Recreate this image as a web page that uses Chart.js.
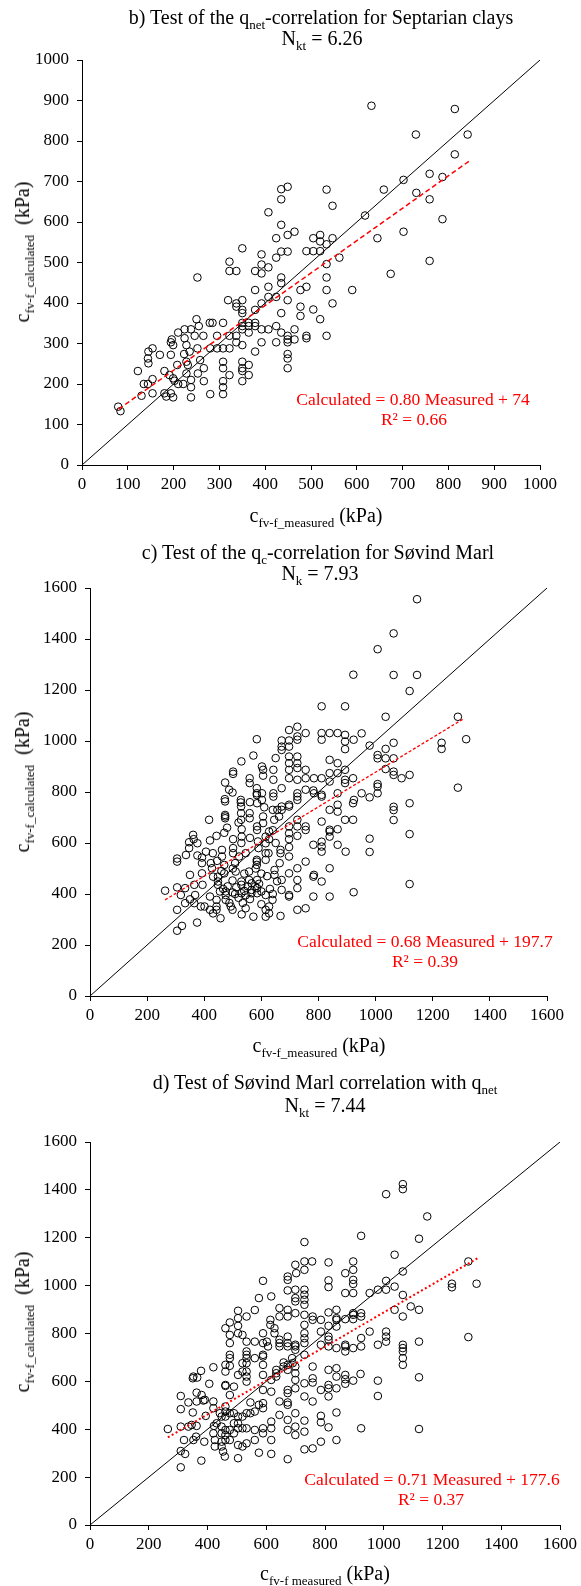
<!DOCTYPE html>
<html><head><meta charset="utf-8">
<script src="https://cdn.jsdelivr.net/npm/chart.js@4/dist/chart.umd.min.js"></script>
<style>
body{margin:0;background:#fff;width:581px;height:1586px;position:relative;overflow:hidden;font-family:"Liberation Serif","Times New Roman",serif;color:#000}
canvas{position:absolute;left:0}
.t{position:absolute;white-space:nowrap;font-size:20px;line-height:20px;transform:translate(-50%,-50%)}
.t sub{font-size:13px;vertical-align:-5px;line-height:0}
.eq{color:#ff0000;font-size:17.5px}
.yt{transform:translate(-50%,-50%) rotate(-90deg)}
</style></head>
<body>
<canvas id="cb" width="581" height="500" style="top:0px"></canvas>
<canvas id="cc" width="581" height="540" style="top:520px"></canvas>
<canvas id="cd" width="581" height="526" style="top:1060px"></canvas>

<div class="t" style="left:321px;top:17px">b) Test of the q<sub>net</sub>-correlation for Septarian clays</div>
<div class="t" style="left:322px;top:38px">N<sub>kt</sub> = 6.26</div>
<div class="t" style="left:316px;top:515px">c<sub>fv-f_measured</sub> (kPa)</div>
<div class="t yt" style="left:22px;top:252px">c<sub>fv-f_calculated</sub>&nbsp; (kPa)</div>
<div class="t eq" style="left:413px;top:399px">Calculated = 0.80 Measured + 74</div>
<div class="t eq" style="left:414px;top:419px">R² = 0.66</div>

<div class="t" style="left:318px;top:552px">c) Test of the q<sub>c</sub>-correlation for Søvind Marl</div>
<div class="t" style="left:320px;top:573px">N<sub>k</sub> = 7.93</div>
<div class="t" style="left:319px;top:1045px">c<sub>fv-f_measured</sub> (kPa)</div>
<div class="t yt" style="left:22px;top:782px">c<sub>fv-f_calculated</sub>&nbsp; (kPa)</div>
<div class="t eq" style="left:425px;top:941px">Calculated = 0.68 Measured + 197.7</div>
<div class="t eq" style="left:425px;top:961px">R² = 0.39</div>

<div class="t" style="left:325px;top:1082px">d) Test of Søvind Marl correlation with q<sub>net</sub></div>
<div class="t" style="left:325px;top:1105px">N<sub>kt</sub> = 7.44</div>
<div class="t" style="left:325px;top:1573px">c<sub>fv-f measured</sub> (kPa)</div>
<div class="t yt" style="left:22px;top:1322px">c<sub>fv-f_calculated</sub>&nbsp; (kPa)</div>
<div class="t eq" style="left:432px;top:1479px">Calculated = 0.71 Measured + 177.6</div>
<div class="t eq" style="left:431px;top:1499px">R² = 0.37</div>

<script>
// ---- Data (measured, calculated) in kPa ----
const pointsB = [
[79,144],[84,133],[122,232],[130,171],[135,200],[144,200],[145,251],[144,263],[145,280],[154,288],[154,212],[154,177],[170,272],[180,232],[180,177],[184,169],[194,177],[199,167],[194,272],[196,310],[194,303],[199,296],[191,222],[199,214],[202,208],[210,327],[208,247],[210,200],[221,200],[224,335],[224,313],[223,274],[228,296],[228,255],[231,247],[228,226],[235,280],[238,192],[238,167],[238,210],[238,335],[246,319],[252,463],[250,360],[255,343],[252,288],[258,259],[253,226],[265,319],[266,239],[266,207],[279,351],[285,351],[280,288],[280,175],[295,319],[295,288],[308,351],[308,288],[308,255],[308,239],[308,207],[308,192],[308,175],[322,502],[322,479],[319,407],[322,288],[322,222],[322,319],[337,479],[337,399],[337,391],[337,319],[337,303],[350,535],[350,407],[350,383],[350,375],[350,351],[350,335],[350,343],[350,296],[350,255],[350,239],[350,232],[350,207],[364,351],[364,343],[364,327],[364,247],[364,222],[378,479],[378,432],[378,383],[378,351],[378,343],[378,280],[392,520],[392,495],[392,473],[392,399],[392,335],[392,303],[407,624],[407,488],[407,440],[407,415],[407,335],[424,560],[424,512],[424,415],[424,343],[424,303],[435,681],[435,656],[435,593],[435,527],[435,463],[435,449],[435,375],[435,327],[449,687],[449,568],[449,527],[449,407],[449,319],[449,310],[449,303],[449,274],[449,263],[449,239],[464,576],[464,335],[464,310],[477,432],[477,391],[477,368],
[632,887],[814,879],[729,816],[842,816],[814,767],[759,719],[787,711],[702,704],[534,680],[659,680],[547,640],[730,672],[759,656],[618,616],[787,607],[702,576],[645,560],[520,568],[505,560],[520,552],[547,560],[534,545],[490,528],[505,528],[520,528],[562,512],[534,496],[759,504],[674,472],[534,463],[490,440],[534,432],[590,432],[547,399],[505,384],[520,360],[490,319],[490,313],[534,319]
];
const trendB = [[80,138],[845,750]];

const pointsC = [
[263,413],[305,539],[305,527],[305,426],[305,338],[305,256],[322,275],[318,396],[333,423],[333,364],[336,553],[347,580],[350,379],[350,475],[361,632],[363,615],[347,603],[375,288],[365,364],[368,396],[365,436],[376,551],[376,599],[392,543],[392,521],[392,481],[394,436],[388,351],[401,351],[406,566],[417,691],[420,390],[420,338],[423,521],[427,501],[431,468],[431,324],[443,628],[443,377],[443,338],[443,351],[457,305],[462,573],[462,547],[448,468],[448,436],[448,449],[470,514],[470,481],[473,704],[473,697],[473,710],[473,837],[472,772],[473,763],[475,410],[475,396],[475,377],[487,809],[499,798],[493,351],[499,338],[499,406],[499,453],[501,615],[501,580],[501,560],[501,871],[501,880],[508,521],[510,488],[522,547],[528,769],[528,759],[529,743],[529,717],[529,691],[531,654],[531,625],[530,403],[530,449],[530,436],[531,320],[530,920],[545,560],[545,344],[559,854],[559,835],[559,717],[559,697],[557,488],[557,455],[566,442],[566,416],[572,943],[572,311],[584,1007],[584,815],[584,795],[584,788],[585,756],[585,665],[585,651],[588,606],[584,534],[584,527],[584,514],[585,455],[585,423],[585,403],[602,900],[606,887],[606,864],[602,795],[602,769],[606,704],[606,678],[615,625],[615,599],[615,560],[615,534],[615,396],[615,338],[615,311],[627,351],[627,324],[627,645],[627,615],[639,377],[642,887],[642,848],[642,795],[642,782],[645,691],[646,494],[646,475],[650,933],[656,730],[662,704],[664,521],[667,560],[667,573],[667,314],[671,1002],[671,978],[671,965],[671,815],[671,743],[671,730],[671,455],[671,416],[697,1043],[697,1002],[697,978],[697,939],[697,913],[697,887],[697,854],[697,750],[697,743],[697,665],[697,638],[697,615],[697,584],[697,547],[697,481],[697,396],[697,390],[726,1056],[726,1018],[726,1005],[726,939],[726,913],[726,894],[726,848],[726,795],[726,782],[726,769],[726,691],[726,665],[726,628],[726,501],[726,455],[726,423],[726,338],[755,1031],[755,887],[755,854],[755,809],[755,665],[755,651],[755,527],[755,344],[784,854],[782,806],[784,795],[782,593],[784,475],[782,468],[782,390],[811,1136],[811,1031],[811,1005],[811,854],[811,789],[811,782],[811,684],[811,586],[811,566],[811,605],[811,449],[839,1031],[839,926],[839,874],[839,841],[839,730],[839,652],[839,645],[839,625],[839,501],[839,390],[867,1031],[867,913],[867,874],[867,795],[867,750],[867,723],[867,654],[867,593],[893,1136],[893,1024],[893,998],[893,968],[893,887],[893,848],[893,835],[893,691],[895,566],[922,1260],[923,1005],[921,854],[924,769],[921,756],[921,691],[923,407],
[466,420],[482,430],[512,426],[540,412],[552,430],[565,403],[578,430],[592,440],[600,410],[520,385],[508,400],[545,395],[560,380],[455,410],[488,365],[535,365],[600,360],[630,420],[640,400],[655,450],[620,470],[600,480],[540,480],[580,500],[500,500],[460,490],[445,530],[430,560],[420,610],[470,640],[530,600],[560,620],[590,580],[625,560],[650,600],[480,660],[520,680],[640,650],[610,740],[560,760],[640,730],
[1145,1556],[1063,1422],[1007,1360],[1063,1259],[1145,1259],[1119,1196],[1035,1095],[1288,1095],[979,982],[1063,993],[1231,993],[1231,969],[1317,1007],[1007,945],[1007,932],[1035,969],[1035,932],[1063,932],[1035,890],[1063,880],[1063,867],[1091,854],[1119,867],[1007,831],[1007,821],[1007,795],[979,779],[951,795],[1288,817],[1063,742],[1063,729],[1063,690],[1119,756],[1119,635],[979,617],[979,565],[1119,439],[951,1030]
];
const trendC = [[263,377],[1309,1088]];

const pointsD = [
[265,401],[309,539],[309,484],[309,411],[309,309],[309,241],[320,355],[324,297],[335,512],[335,411],[346,418],[350,613],[352,620],[365,616],[350,470],[352,355],[361,369],[363,414],[363,553],[363,516],[378,644],[380,543],[379,269],[386,520],[391,523],[394,456],[389,348],[406,590],[420,659],[420,516],[420,488],[422,414],[420,383],[425,355],[425,328],[431,425],[442,467],[448,453],[448,411],[448,383],[448,348],[448,328],[453,307],[459,286],[461,822],[461,669],[461,641],[461,585],[461,581],[461,495],[461,474],[461,453],[461,397],[461,376],[461,355],[476,846],[476,794],[476,760],[476,711],[476,697],[476,665],[476,543],[476,467],[476,397],[476,355],[490,578],[490,467],[490,425],[490,383],[504,895],[504,864],[504,832],[504,801],[504,627],[504,453],[504,425],[504,404],[504,334],[504,279],[519,794],[519,676],[519,641],[519,453],[519,404],[519,328],[533,871],[533,766],[533,725],[533,711],[533,697],[533,676],[533,641],[533,620],[533,599],[533,467],[533,404],[533,341],[546,512],[546,467],[561,898],[561,766],[561,697],[561,474],[561,397],[561,355],[575,948],[575,502],[575,302],[589,801],[589,760],[589,711],[589,704],[589,669],[589,627],[589,564],[589,509],[589,488],[589,404],[589,383],[589,1020],[602,766],[606,746],[617,955],[614,857],[614,836],[617,606],[617,557],[617,432],[617,404],[617,355],[617,297],[628,822],[628,801],[634,648],[634,634],[634,620],[645,906],[645,871],[645,774],[645,760],[645,746],[645,516],[645,460],[659,679],[659,662],[673,1038],[673,1024],[673,980],[673,899],[673,871],[673,787],[673,760],[673,746],[673,669],[673,648],[673,564],[673,551],[673,512],[673,502],[673,439],[673,397],[673,275],[688,697],[690,676],[699,1087],[702,1052],[699,983],[699,948],[699,934],[699,885],[699,753],[699,746],[699,732],[699,662],[699,634],[699,606],[699,571],[699,467],[699,411],[699,376],[730,1182],[730,1101],[730,1066],[730,983],[730,962],[730,941],[730,920],[730,878],[730,836],[730,801],[730,780],[730,760],[730,711],[730,592],[730,537],[730,436],[730,390],[730,316],[756,1101],[758,871],[758,857],[758,662],[758,613],[758,595],[758,516],[758,320],[786,857],[786,808],[786,753],[786,564],[786,456],[786,429],[786,348],[812,1097],[812,1022],[812,994],[812,888],[812,832],[812,787],[812,774],[812,746],[812,648],[812,585],[812,571],[812,537],[812,408],[839,899],[839,864],[839,857],[839,829],[839,739],[839,655],[839,620],[839,571],[839,470],[839,355],[869,1052],[869,969],[869,860],[869,753],[869,746],[869,725],[869,627],[869,609],[869,590],[896,1101],[896,1066],[896,1024],[896,1007],[896,969],[896,885],[896,878],[896,860],[896,739],[896,603],
[923,1208],[923,885],[923,871],[923,781],[923,746],[921,631],[923,404],[952,969],[952,808],[980,983],[980,753],[980,603],[980,539],[1008,1382],[1008,1020],[1008,983],[1008,808],[1008,787],[1008,766],[1037,1129],[1037,996],[1037,899],[1065,1424],[1065,1403],[1065,1059],[1065,961],[1065,871],[1065,753],[1065,739],[1065,725],[1065,697],[1065,669],[1092,913],[1120,1196],[1120,899],[1120,766],[1120,617],[1120,401],[1148,1289],[1232,1008],[1232,993],[1288,1101],[1316,1008],[1288,785]
];
const trendD = [[265,366],[1319,1114]];

const axisMaxB = 1000, axisStepB = 100;
const axisMaxC = 1600, axisStepC = 200;
const axisMaxD = 1600, axisStepD = 200;

const FONT = '"Liberation Serif","Times New Roman",serif';
function xy(arr){ return arr.map(p => ({x:p[0], y:p[1]})); }

function axis(max, step, fit){
  return {
    type:'linear', min:0, max:max,
    ticks:{stepSize:step, color:'#000', font:{family:FONT, size:17}, autoSkip:false, maxRotation:0, padding:fit.pad,
      callback: v => String(v)},
    grid:{display:true, drawOnChartArea:false, drawTicks:true, tickLength:5, color:'#000', lineWidth:1},
    border:{display:true, color:'#000', width:1},
    afterFit: fit.fn
  };
}

function build(c){
  return new Chart(document.getElementById(c.id).getContext('2d'), {
    type:'scatter',
    data:{datasets:[
      {data:xy(c.trend), showLine:true, borderColor:'#ff0000', borderWidth:c.tw, borderDash:c.dash, pointRadius:0, fill:false},
      {data:xy(c.points), pointRadius:3.8, pointBorderWidth:1, pointBorderColor:'#000', pointBackgroundColor:'rgba(0,0,0,0)', borderColor:'#000', backgroundColor:'rgba(0,0,0,0)'},
      {data:[{x:0,y:0},{x:c.max,y:c.max}], showLine:true, borderColor:'#000', borderWidth:1, pointRadius:0, fill:false}
    ]},
    options:{
      responsive:false, animation:false, devicePixelRatio:1,
      layout:{padding:{top:c.padTop, right:c.padRight, left:0, bottom:0}},
      plugins:{legend:{display:false}, tooltip:{enabled:false}},
      scales:{
        x:axis(c.max, c.step, {pad:4, fn:s => { s.height = c.xh; }}),
        y:axis(c.max, c.step, {pad:8, fn:s => { s.width = c.yw; }})
      }
    }
  });
}

build({id:'cb', points:pointsB, trend:trendB, max:axisMaxB, step:axisStepB, tw:1.5, dash:[5,3], padTop:60, padRight:41, yw:82, xh:35});
build({id:'cc', points:pointsC, trend:trendC, max:axisMaxC, step:axisStepC, tw:1.3, dash:[3,2], padTop:68, padRight:34, yw:90, xh:64});
build({id:'cd', points:pointsD, trend:trendD, max:axisMaxD, step:axisStepD, tw:2, dash:[2,2.5], padTop:82, padRight:20, yw:90, xh:61});
</script>
</body></html>
